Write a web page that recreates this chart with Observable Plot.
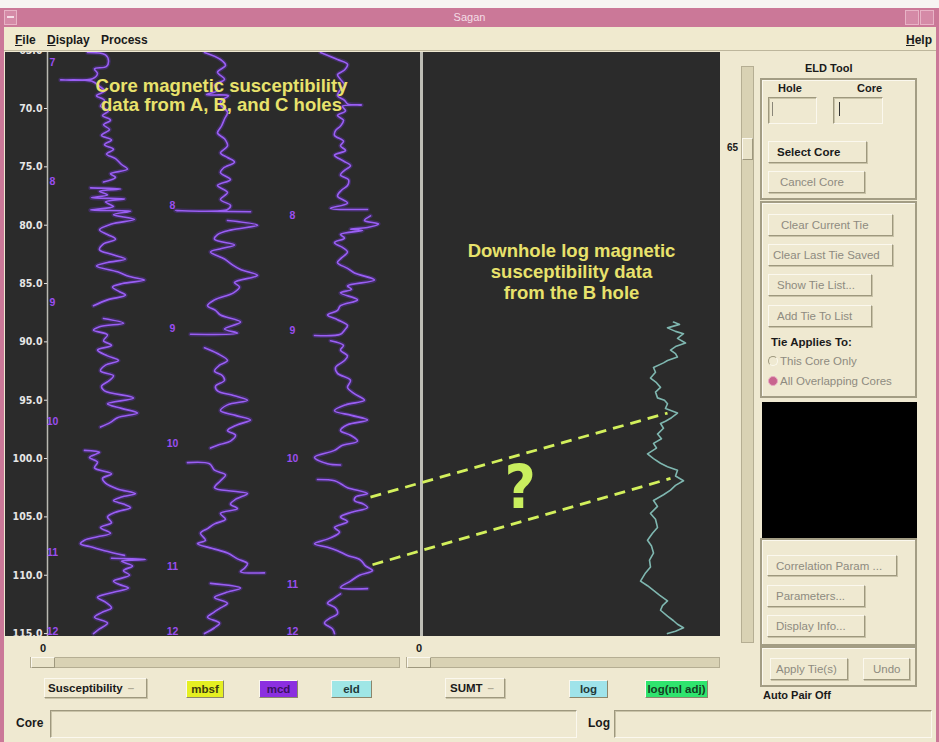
<!DOCTYPE html>
<html><head><meta charset="utf-8">
<script src="https://cdn.jsdelivr.net/npm/d3@7"></script>
<script src="https://cdn.jsdelivr.net/npm/@observablehq/plot@0.6"></script>
<style>
body{margin:0;width:939px;height:742px;position:relative;overflow:hidden;background:#efe9d1;font-family:"Liberation Sans",Arial,sans-serif;color:#1a1a1a;}
.a{position:absolute;box-sizing:border-box;}
.bold{font-weight:bold;}
.btn{position:absolute;box-sizing:border-box;background:#efe9d1;border:1px solid;border-color:#fbf8ee #9e987e #9e987e #fbf8ee;box-shadow:1px 1px 0 #c9c3a8;font-size:11.5px;color:#8e8b80;display:flex;align-items:center;padding-left:8px;white-space:nowrap;}
.box{position:absolute;box-sizing:border-box;border:2px solid #a39d84;box-shadow:inset 1px 1px 0 #fbf8ee;}
.field{position:absolute;box-sizing:border-box;background:#efe9d1;border:1px solid;border-color:#9e987e #fbf8ee #fbf8ee #9e987e;box-shadow:inset 1px 1px 0 #c9c3a8;}
.chip{position:absolute;box-sizing:border-box;height:18px;top:680px;font-size:11.5px;font-weight:bold;display:flex;align-items:center;justify-content:center;border:1px solid;border-color:#fbf8ee #8c866c #8c866c #fbf8ee;color:#1f3a3a;}
#chart{position:absolute;left:5px;top:52px;}
</style></head><body>
<!-- window chrome -->
<div class="a" style="left:0;top:0;width:939px;height:8px;background:#f7f4f2"></div>
<div class="a" style="left:0;top:8px;width:939px;height:19px;background:#cb7898"></div>
<div class="a" style="left:4px;top:10px;width:13px;height:15px;background:#d58aa7;border:1px solid #e8b3c6"></div>
<div class="a" style="left:7px;top:16px;width:7px;height:2px;background:#f5dce6"></div>
<div class="a" style="left:905px;top:10px;width:14px;height:15px;background:#d58aa7;border:1px solid #e8b3c6"></div>
<div class="a" style="left:920px;top:10px;width:14px;height:15px;background:#d58aa7;border:1px solid #e8b3c6"></div>
<div class="a" style="left:0;top:11px;width:939px;text-align:center;font-size:11px;color:#f4dde6">Sagan</div>
<div class="a" style="left:0;top:27px;width:939px;height:24px;background:#f0eacf;border-bottom:1px solid #bdb69c"></div>
<div class="a bold" style="left:15px;top:33px;font-size:12px"><u>F</u>ile</div>
<div class="a bold" style="left:47px;top:33px;font-size:12px"><u>D</u>isplay</div>
<div class="a bold" style="left:101px;top:33px;font-size:12px">Process</div>
<div class="a bold" style="left:906px;top:33px;font-size:12px"><u>H</u>elp</div>

<div id="chart"></div>

<!-- right tool panel -->
<div class="a" style="left:741px;top:66px;width:13px;height:577px;background:#d9d2b4;border:1px solid #b5ae93"></div>
<div class="a" style="left:742px;top:138px;width:11px;height:22px;background:#e9e3c9;border:1px solid;border-color:#fbf8ee #9e987e #9e987e #fbf8ee"></div>
<div class="a bold" style="left:727px;top:142px;font-size:10px">65</div>
<div class="a bold" style="left:805px;top:62px;font-size:11px">ELD Tool</div>
<div class="box" style="left:760px;top:78px;width:157px;height:122px"></div>
<div class="a bold" style="left:778px;top:82px;font-size:11px">Hole</div>
<div class="a bold" style="left:857px;top:82px;font-size:11px">Core</div>
<div class="field" style="left:768px;top:97px;width:49px;height:27px"></div>
<div class="field" style="left:833px;top:97px;width:50px;height:27px"></div>
<div class="a" style="left:772px;top:102px;width:1px;height:14px;background:#8a8678"></div>
<div class="a" style="left:839px;top:102px;width:1px;height:14px;background:#333"></div>
<div class="btn bold" style="left:768px;top:141px;width:99px;height:22px;color:#1a1a1a;font-size:11.5px">Select Core</div>
<div class="btn" style="left:768px;top:171px;width:97px;height:22px;padding-left:11px">Cancel Core</div>
<div class="box" style="left:760px;top:201px;width:157px;height:197px"></div>
<div class="btn" style="left:768px;top:214px;width:125px;height:22px;padding-left:12px">Clear Current Tie</div>
<div class="btn" style="left:768px;top:244px;width:125px;height:22px;padding-left:4px">Clear Last Tie Saved</div>
<div class="btn" style="left:768px;top:274px;width:104px;height:22px">Show Tie List...</div>
<div class="btn" style="left:768px;top:305px;width:104px;height:22px">Add Tie To List</div>
<div class="a bold" style="left:771px;top:336px;font-size:11.5px">Tie Applies To:</div>
<div class="a" style="left:768px;top:356px;width:10px;height:10px;border-radius:50%;border:1px solid;border-color:#9e987e #fbf8ee #fbf8ee #9e987e"></div>
<div class="a" style="left:780px;top:355px;font-size:11.5px;color:#8e8b80">This Core Only</div>
<div class="a" style="left:768px;top:376px;width:10px;height:10px;border-radius:50%;background:#c8648e;border:1px solid #e9a9c2"></div>
<div class="a" style="left:780px;top:375px;font-size:11.5px;color:#8e8b80">All Overlapping Cores</div>
<div class="a" style="left:762px;top:402px;width:155px;height:136px;background:#000"></div>
<div class="box" style="left:760px;top:538px;width:157px;height:108px"></div>
<div class="btn" style="left:767px;top:555px;width:130px;height:21px">Correlation Param ...</div>
<div class="btn" style="left:767px;top:585px;width:98px;height:22px">Parameters...</div>
<div class="btn" style="left:767px;top:615px;width:98px;height:22px">Display Info...</div>
<div class="box" style="left:760px;top:646px;width:157px;height:41px"></div>
<div class="btn" style="left:770px;top:658px;width:78px;height:22px;padding-left:5px">Apply Tie(s)</div>
<div class="btn" style="left:863px;top:658px;width:47px;height:22px;padding-left:9px">Undo</div>
<div class="a bold" style="left:763px;top:689px;font-size:11px">Auto Pair Off</div>

<!-- bottom controls -->
<div class="a bold" style="left:40px;top:642px;font-size:11px">0</div>
<div class="a" style="left:30px;top:657px;width:370px;height:11px;background:#d9d2b4;border:1px solid #b5ae93"></div>
<div class="a" style="left:31px;top:657px;width:24px;height:11px;background:#e9e3c9;border:1px solid;border-color:#fbf8ee #9e987e #9e987e #fbf8ee"></div>
<div class="a bold" style="left:416px;top:642px;font-size:11px">0</div>
<div class="a" style="left:406px;top:657px;width:314px;height:11px;background:#d9d2b4;border:1px solid #b5ae93"></div>
<div class="a" style="left:407px;top:657px;width:24px;height:11px;background:#e9e3c9;border:1px solid;border-color:#fbf8ee #9e987e #9e987e #fbf8ee"></div>
<div class="btn bold" style="left:44px;top:678px;width:103px;height:20px;color:#1a1a1a;padding-left:3px">Susceptibility <span style="color:#b0aa95;margin-left:5px">&#8211;</span></div>
<div class="chip" style="left:186px;width:38px;background:#e5ef22;color:#3b3a10">mbsf</div>
<div class="chip" style="left:259px;width:39px;background:#8b2fe0;color:#3a1260">mcd</div>
<div class="chip" style="left:331px;width:41px;background:#9fe6e6">eld</div>
<div class="btn bold" style="left:445px;top:678px;width:60px;height:20px;color:#1a1a1a;padding-left:4px">SUMT <span style="color:#b0aa95;margin-left:5px">&#8211;</span></div>
<div class="chip" style="left:569px;width:39px;background:#9fe3ea">log</div>
<div class="chip" style="left:645px;width:63px;background:#2fe46e;color:#133d22">log(ml adj)</div>
<div class="a bold" style="left:16px;top:716px;font-size:12px">Core</div>
<div class="field" style="left:50px;top:710px;width:527px;height:28px"></div>
<div class="a bold" style="left:588px;top:716px;font-size:12px">Log</div>
<div class="field" style="left:614px;top:710px;width:318px;height:28px"></div>

<!-- window frame -->
<div class="a" style="left:0;top:8px;width:4px;height:734px;background:#cb7898"></div>
<div class="a" style="left:936px;top:8px;width:3px;height:734px;background:#cb7898"></div>

<script>
// ---- depth ticks (m) ----
const depthTicks = [65, 70, 75, 80, 85, 90, 95, 100, 105, 110, 115];

// ---- core magnetic susceptibility, [core, depth (m), susceptibility (display units)] ----
const holeA = [
 [7,65.2,10],[7,65.4,28],[7,65.9,31],[7,66.4,29],[7,66.6,17],[7,67.0,20],[7,67.45,15],[7,67.55,-17],[7,67.65,14],
 [7,68.1,22],[7,68.5,27],[7,68.9,19],[7,69.3,27],[7,69.8,23],[7,70.2,31],[7,70.6,25],[7,71.0,33],[7,71.4,26],
 [7,71.8,32],[7,72.3,24],[7,72.7,34],[7,73.1,27],[7,73.5,36],[7,73.9,29],[7,74.3,38],[7,74.8,44],[7,75.2,50],
 [7,75.6,33],[7,75.9,38],[7,76.3,26],
 [8,76.8,13],[8,76.9,43],[8,77.1,22],[8,77.4,30],[8,77.65,14],[8,77.75,47],[8,78.0,28],[8,78.4,36],[8,78.7,13],
 [8,78.8,53],[8,79.1,36],[8,79.5,57],[8,79.9,34],[8,80.4,22],[8,80.8,30],[8,81.2,38],[8,81.6,26],[8,82.1,22],
 [8,82.5,34],[8,82.9,48],[8,83.2,30],[8,83.5,19],[8,84.0,40],[8,84.4,52],[8,84.7,67],[8,85.0,45],[8,85.3,35],
 [8,85.7,42],[8,86.0,48],[8,86.4,30],[8,86.9,16],
 [9,88.0,26],[9,88.4,46],[9,88.7,22],[9,89.0,16],[9,89.4,30],[9,89.9,26],[9,90.3,34],[9,90.7,20],[9,91.2,30],
 [9,91.6,41],[9,92.0,28],[9,92.5,23],[9,92.9,36],[9,93.3,32],[9,93.8,24],[9,94.2,27],[9,94.8,56],[9,95.3,30],
 [9,95.7,44],[9,96.1,60],[9,96.5,40],[9,96.9,33],[9,97.3,23],
 [10,99.3,7],[10,99.45,22],[10,99.6,19],[10,99.9,12],[10,100.3,20],[10,100.8,17],[10,101.3,34],[10,101.7,25],
 [10,102.1,28],[10,102.6,40],[10,103.0,58],[10,103.3,44],[10,103.6,36],[10,103.9,46],[10,104.2,53],[10,104.6,38],
 [10,105.0,30],[10,105.5,34],[10,105.9,23],[10,106.4,33],[10,106.7,20],[10,107.0,7],[10,107.3,3],[10,107.6,15],
 [10,107.9,27],[10,108.3,47],
 [11,108.55,34],[11,108.65,68],[11,108.8,44],[11,109.2,55],[11,109.6,46],[11,110.0,52],[11,110.5,36],[11,110.8,42],
 [11,111.1,51],[11,111.5,34],[11,111.9,20],[11,112.3,28],[11,112.8,34],[11,113.2,24],[11,113.6,17],[11,114.1,30],
 [11,114.6,22],[11,115.0,16]
];
const holeB = [
 [7,65.2,7],[7,65.8,23],[7,66.3,28],[7,66.9,20],[7,67.5,27],[7,68.0,17],[7,68.45,20],[7,68.8,9],[7,68.9,31],
 [7,69.3,24],[7,69.7,23],[7,70.3,30],[7,70.9,27],[7,71.5,24],[7,72.1,20],[7,72.6,27],[7,73.2,30],[7,73.8,23],
 [7,74.2,30],[7,74.6,37],[7,75.1,26],[7,75.5,23],[7,76.1,33],[7,76.6,20],[7,77.2,30],[7,77.8,23],[7,78.3,33],
 [7,78.65,30],[7,78.75,-22],[7,78.85,53],
 [8,79.6,30],[8,80.0,60],[8,80.4,34],[8,80.8,20],[8,81.2,17],[8,81.7,37],[8,82.0,24],[8,82.3,13],[8,82.9,27],
 [8,83.4,35],[8,83.8,43],[8,84.3,60],[8,84.9,37],[8,85.3,42],[8,85.8,36],[8,86.4,17],[8,86.9,10],[8,87.3,18],
 [8,87.7,23],[8,88.3,43],[8,88.9,27],[8,89.25,40],[8,89.35,-7],
 [9,90.5,7],[9,91.0,20],[9,91.6,30],[9,92.0,22],[9,92.5,17],[9,92.9,25],[9,93.3,27],[9,93.8,18],[9,94.2,20],
 [9,94.6,36],[9,95.0,50],[9,95.4,30],[9,95.9,23],[9,96.3,38],[9,96.7,53],[9,97.1,40],[9,97.6,30],[9,98.0,38],
 [9,98.5,33],[9,98.8,22],[9,99.1,13],
 [10,100.35,-10],[10,100.45,12],[10,101.0,17],[10,101.4,28],[10,101.9,23],[10,102.5,17],[10,102.8,36],[10,103.0,50],
 [10,103.5,38],[10,103.9,33],[10,104.3,40],[10,104.7,23],[10,105.2,28],[10,105.6,17],[10,106.0,10],[10,106.4,3],
 [10,107.0,8],[10,107.3,0],[10,107.7,15],[10,108.1,30],[10,108.6,40],[10,109.0,50],[10,109.4,47],[10,109.7,43],
 [10,109.8,67],
 [11,110.7,13],[11,111.1,43],[11,111.5,28],[11,111.9,17],[11,112.4,30],[11,112.8,23],[11,113.2,16],[11,113.6,10],
 [11,114.1,22],[11,114.5,17],[11,115.0,7]
];
const holeC = [
 [7,65.2,3],[7,65.8,20],[7,66.2,30],[7,66.7,27],[7,67.1,20],[7,67.5,23],[7,68.0,27],[7,68.5,22],[7,68.9,20],
 [7,69.3,27],[7,69.6,30],[7,69.7,44],[7,69.8,25],[7,70.2,28],[7,70.6,20],[7,71.0,26],[7,71.5,23],[7,71.9,18],
 [7,72.3,17],[7,72.8,26],[7,73.2,23],[7,73.6,28],[7,74.0,17],[7,74.5,26],[7,74.9,33],[7,75.3,27],[7,75.7,23],
 [7,76.1,31],[7,76.6,30],[7,77.0,24],[7,77.5,20],[7,78.1,30],[7,78.55,13],[7,78.65,50],
 [8,79.2,53],[8,79.6,47],[8,79.9,61],[8,80.2,50],[8,80.35,33],[8,80.45,45],[8,80.8,23],[8,81.1,27],[8,81.5,17],
 [8,81.9,25],[8,82.3,30],[8,82.8,24],[8,83.2,20],[8,83.7,30],[8,84.1,37],[8,84.7,57],[8,85.2,30],[8,85.5,34],
 [8,85.8,23],[8,86.4,40],[8,86.9,23],[8,87.3,20],[8,87.7,10],[8,88.1,20],[8,88.6,30],[8,89.0,27],[8,89.35,23],
 [8,89.45,-3],
 [9,89.9,13],[9,90.3,26],[9,90.7,23],[9,91.2,30],[9,91.6,27],[9,92.2,18],[9,92.7,20],[9,93.3,33],[9,93.9,30],
 [9,94.4,36],[9,95.0,47],[9,95.4,28],[9,95.9,17],[9,96.3,34],[9,96.7,50],[9,97.1,30],[9,97.6,23],[9,98.0,33],
 [9,98.5,40],[9,98.9,24],[9,99.3,17],[9,99.9,-3],[9,100.45,10],[9,100.55,23],
 [10,101.8,0],[10,101.9,17],[10,102.2,24],[10,102.5,30],[10,103.0,50],[10,103.3,38],[10,103.6,37],[10,103.9,46],
 [10,104.2,50],[10,104.6,34],[10,105.0,23],[10,105.4,30],[10,105.9,17],[10,106.3,22],[10,106.8,13],[10,107.3,-3],
 [10,107.6,10],[10,107.9,20],[10,108.3,30],[10,108.7,43],[10,109.2,48],[10,109.6,55],[10,110.0,42],[10,110.5,33],
 [10,111.05,23],[10,111.15,50],
 [11,111.6,23],[11,112.0,16],[11,112.4,10],[11,112.8,18],[11,113.3,20],[11,113.7,12],[11,114.1,7],[11,114.6,15],
 [11,115.0,17]
];

// ---- downhole log magnetic susceptibility, B hole: [depth (m), value] ----
const logTrace = [
 [88.3,36],[88.5,42],[88.8,30],[89.1,38],[89.3,46],[89.7,40],[90.1,48],[90.4,38],[90.7,33],[91.0,38],[91.3,40],
 [91.6,30],[91.8,26],[92.2,16],[92.6,18],[93.1,13],[93.5,19],[93.9,23],[94.3,18],[94.8,20],[95.0,27],[95.3,30],
 [95.7,28],[96.1,40],[96.5,34],[96.8,28],[97.0,23],[97.4,26],[97.9,20],[98.3,24],[98.7,16],[99.1,19],[99.6,10],
 [100.0,16],[100.4,23],[100.7,30],[101.0,40],[101.5,38],[101.9,46],[102.3,38],[102.7,33],[103.1,26],[103.6,16],
 [104.1,20],[104.7,13],[105.2,18],[105.9,20],[106.4,15],[107.0,10],[107.5,14],[108.1,16],[108.7,12],[109.3,13],
 [109.8,8],[110.5,3],[110.9,10],[111.3,16],[111.7,22],[112.2,30],[112.6,25],[113.0,23],[113.5,30],[113.9,36],
 [114.2,40],[114.5,46],[114.8,38],[115.0,30]
];

// ---- core number labels: [core, depth (m)] ----
const coreLabelsA = [[7,66.1],[8,76.3],[9,86.6],[10,96.8],[11,108.1],[12,114.8]];
const coreLabelsB = [[8,78.3],[9,88.9],[10,98.7],[11,109.3],[12,114.8]];
const coreLabelsC = [[8,79.2],[9,89.0],[10,100.0],[11,110.8],[12,114.8]];

// ---- proposed ties between C-hole core and log ----
const tieCoreDepth = [103.3, 109.1];
const tieCoreValue = [53, 55];
const tieLogDepth = [96.1, 101.7];
const tieLogValue = [30, 33];

const annotationCore = "Core magnetic susceptibility\ndata from A, B, and C holes";
const annotationLog = "Downhole log magnetic\nsusceptibility data\nfrom the B hole";

// display columns (track baselines along the x scale)
const column = {A: 30, B: 150, C: 270, log: 590};
const panelSplit = 374;

const coreRows = [["A", holeA], ["B", holeB], ["C", holeC]].flatMap(([hole, arr]) =>
  arr.map(([core, depth, value]) => ({hole, core, depth, value})));
const labelRows = [["A", coreLabelsA], ["B", coreLabelsB], ["C", coreLabelsC]].flatMap(([hole, arr]) =>
  arr.map(([core, depth]) => ({hole, core, depth})));
const logRows = logTrace.map(([depth, value]) => ({depth, value}));
const tieRows = tieCoreDepth.map((d, i) => ({cd: d, cv: tieCoreValue[i], ld: tieLogDepth[i], lv: tieLogValue[i]}));
const qx = d3.mean(tieRows.flatMap(t => [column.C + t.cv, column.log + t.lv]));
const qy = d3.mean(tieRows.flatMap(t => [t.cd, t.ld]));

const purple = "#9a5ef4";
const tieColor = "#d3f05c";
const noteColor = "#e8e26c";

const chart = Plot.plot({
  width: 715, height: 584,
  marginLeft: 42, marginRight: 0, marginTop: 0, marginBottom: 0,
  style: {background: "#2b2b2b", overflow: "hidden", color: "#e4e4e4", fontFamily: "Liberation Sans, Arial, sans-serif"},
  x: {domain: [0, 673], axis: null},
  y: {domain: [65.2, 115.25], reverse: true, axis: null},
  marks: [
    Plot.ruleX([0], {stroke: "#b9b9b1", strokeWidth: 1.5}),
    Plot.ruleX([panelSplit], {stroke: "#bdbdb5", strokeWidth: 3}),
    Plot.axisY(depthTicks, {tickSize: 3, tickPadding: 2, tickFormat: d => d.toFixed(1), fontSize: 10.5, fontWeight: "bold", color: "#e6e6e6", label: null, fontFamily: "Liberation Sans Narrow, DejaVu Sans Condensed, Liberation Sans, sans-serif"}),
    Plot.line(coreRows, {x: d => column[d.hole] + d.value, y: "depth", z: d => d.hole + d.core, stroke: "#6e35d8", strokeWidth: 4.5, strokeOpacity: 0.3, curve: "catmull-rom"}),
    Plot.line(coreRows, {x: d => column[d.hole] + d.value, y: "depth", z: d => d.hole + d.core, stroke: purple, strokeWidth: 1.6, curve: "catmull-rom"}),
    Plot.text(labelRows, {x: d => column[d.hole], y: "depth", text: d => String(d.core), dx: -25, fill: "#9a4ef0", fontSize: 10.5, fontWeight: "bold"}),
    Plot.line(logRows, {x: d => column.log + d.value, y: "depth", stroke: "#7fb7b0", strokeWidth: 1.6}),
    Plot.link(tieRows, {x1: t => column.C + t.cv, y1: "cd", x2: t => column.log + t.lv, y2: "ld", stroke: tieColor, strokeWidth: 2.8, strokeDasharray: "11,7"}),
    Plot.text(["?"], {x: () => qx, y: () => qy, text: d => d, fill: "#c9ee5e", fontSize: 60, fontWeight: "bold", fontFamily: "Liberation Sans Narrow, DejaVu Sans Condensed, Liberation Sans, sans-serif", lineAnchor: "middle"}),
    Plot.text([annotationCore], {x: () => 174, y: () => 67.45, text: d => d, fill: noteColor, fontSize: 18.5, fontWeight: "bold", lineAnchor: "top", lineHeight: 1.03}),
    Plot.text([annotationLog], {x: () => 524, y: () => 81.5, text: d => d, fill: noteColor, fontSize: 18.5, fontWeight: "bold", lineAnchor: "top", lineHeight: 1.12})
  ]
});
document.getElementById("chart").append(chart);
</script>
</body></html>
